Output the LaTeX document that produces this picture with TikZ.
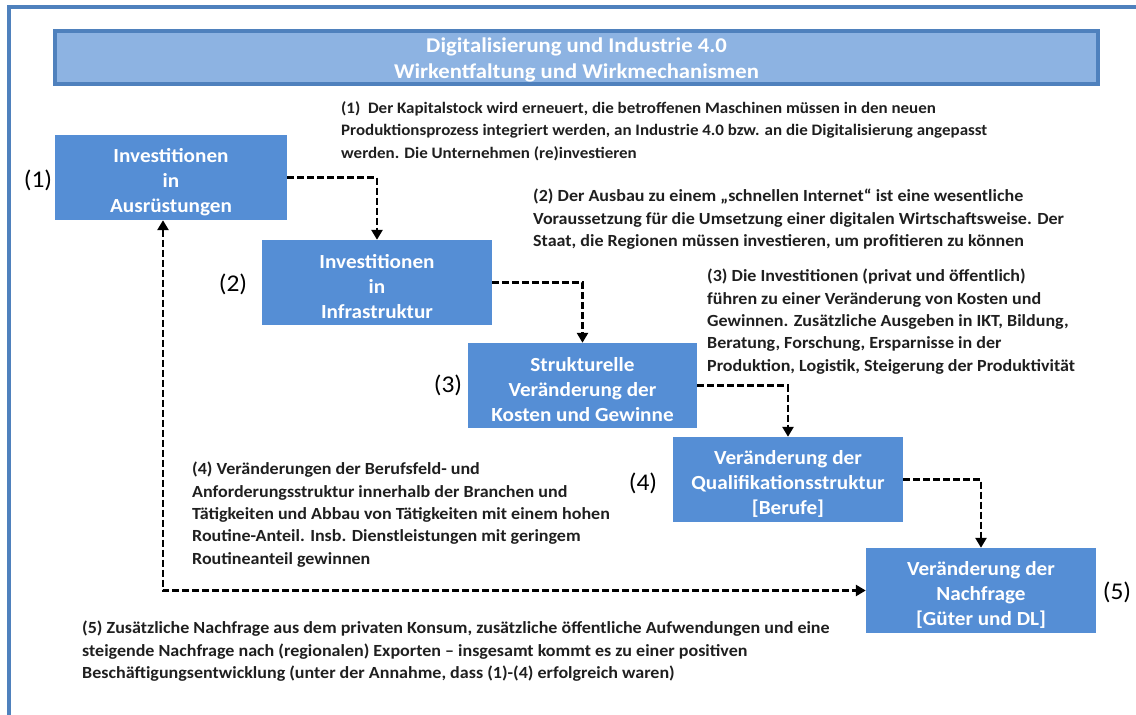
\documentclass[tikz,border=0pt]{standalone}
\usepackage{fontspec}
\setmainfont{Carlito}
\newfontfamily\widefont[FakeStretch=1.06]{Carlito}
\newfontfamily\titlefont[FakeStretch=1.08]{Carlito}
\usetikzlibrary{arrows.meta}
\definecolor{boxblue}{RGB}{85,142,213}
\definecolor{titlefill}{RGB}{141,179,226}
\definecolor{framecol}{RGB}{79,129,189}
\tikzset{
  stepbox/.style={fill=boxblue, draw=none, minimum width=230pt, minimum height=85pt, inner sep=0pt},
  boxtext/.style={inner sep=0pt, yshift=-4.5pt, text=white, align=center,
    font=\widefont\fontsize{20}{25}\selectfont\bfseries},
  numlabel/.style={font=\widefont\fontsize{24}{26}\selectfont, inner sep=0pt},
  note/.style={anchor=north west, inner sep=0pt, align=left, text=black!88,
    font=\widefont\fontsize{17}{22.3}\selectfont\bfseries},
  conn/.style={line width=2.6pt, dash pattern=on 7pt off 3pt, black,
    -{Triangle[width=11pt,length=10pt]}},
}
\begin{document}
\begin{tikzpicture}[x=1pt,y=-1pt]
\useasboundingbox (0,0) rectangle (1136,715);
% outer frame
\draw[framecol, line width=4pt] (9,715) -- (9,7) -- (1140,7);
% title
\node[draw=framecol, line width=4pt, fill=titlefill, minimum width=1043pt, minimum height=53pt,
  inner sep=0pt] (title) at (576.5,57.5) {};
\node[inner sep=0pt, yshift=-2.5pt, text=white, align=center,
  font=\titlefont\fontsize{21}{25.5}\selectfont\bfseries]
  (titletext) at (title.center) {Digitalisierung und Industrie 4.0\\Wirkentfaltung und Wirkmechanismen};
% boxes
\node[stepbox, minimum width=232pt] (b1) at (171,177.5) {};
\node[stepbox] (b2) at (377,282.5) {};
\node[stepbox, minimum width=229pt] (b3) at (582.5,385.5) {};
\node[stepbox] (b4) at (788,479.5) {};
\node[stepbox] (b5) at (981,590.5) {};
\node[boxtext] (t1) at (b1.center) {Investitionen\\in\\Ausrüstungen};
\node[boxtext] (t2) at (b2.center) {Investitionen\\in\\Infrastruktur};
\node[boxtext] (t3) at (b3.center) {Strukturelle\\Veränderung der\\Kosten und Gewinne};
\node[boxtext] (t4) at (b4.center) {Veränderung der\\Qualifikationsstruktur\\{[Berufe]}};
\node[boxtext] (t5) at (b5.center) {Veränderung der\\Nachfrage\\{[Güter und DL]}};
% number labels
\node[numlabel] (n1) at (38,180) {(1)};
\node[numlabel] (n2) at (233,284) {(2)};
\node[numlabel] (n3) at (448,385) {(3)};
\node[numlabel] (n4) at (643,483) {(4)};
\node[numlabel] (n5) at (1117,592) {(5)};
% annotations
\node[note, font=\widefont\fontsize{16}{22.5}\selectfont\bfseries] (a1) at (341,101) {(1)\ \ Der Kapitalstock wird erneuert, die betroffenen Maschinen müssen in den neuen\\Produktionsprozess integriert werden, an Industrie 4.0 bzw. an die Digitalisierung angepasst\\werden. Die Unternehmen (re)investieren};
\node[note] (a2) at (533,189) {(2) Der Ausbau zu einem „schnellen Internet“ ist eine wesentliche\\Voraussetzung für die Umsetzung einer digitalen Wirtschaftsweise. Der\\Staat, die Regionen müssen investieren, um profitieren zu können};
\node[note] (a3) at (707,269) {(3) Die Investitionen (privat und öffentlich)\\führen zu einer Veränderung von Kosten und\\Gewinnen. Zusätzliche Ausgeben in IKT, Bildung,\\Beratung, Forschung, Ersparnisse in der\\Produktion, Logistik, Steigerung der Produktivität};
\node[note] (a4) at (192,462) {(4) Veränderungen der Berufsfeld- und\\Anforderungsstruktur innerhalb der Branchen und\\Tätigkeiten und Abbau von Tätigkeiten mit einem hohen\\Routine-Anteil. Insb. Dienstleistungen mit geringem\\Routineanteil gewinnen};
\node[note] (a5) at (82,621) {(5) Zusätzliche Nachfrage aus dem privaten Konsum, zusätzliche öffentliche Aufwendungen und eine\\steigende Nachfrage nach (regionalen) Exporten – insgesamt kommt es zu einer positiven\\Beschäftigungsentwicklung (unter der Annahme, dass (1)-(4) erfolgreich waren)};
% connectors
\draw[conn] (b1.east) -| (b2.north);
\draw[conn] (b2.east) -| (b3.north);
\draw[conn] (b3.east) -| (b4.north);
\draw[conn] (b4.east) -| (b5.north);
\coordinate (loopc) at (163,592);
\draw[conn, {Triangle[width=11pt,length=10pt]}-{Triangle[width=11pt,length=10pt]}]
  (b1.south -| loopc) -- (loopc |- b5.west) -- (b5.west);
\end{tikzpicture}
\end{document}
